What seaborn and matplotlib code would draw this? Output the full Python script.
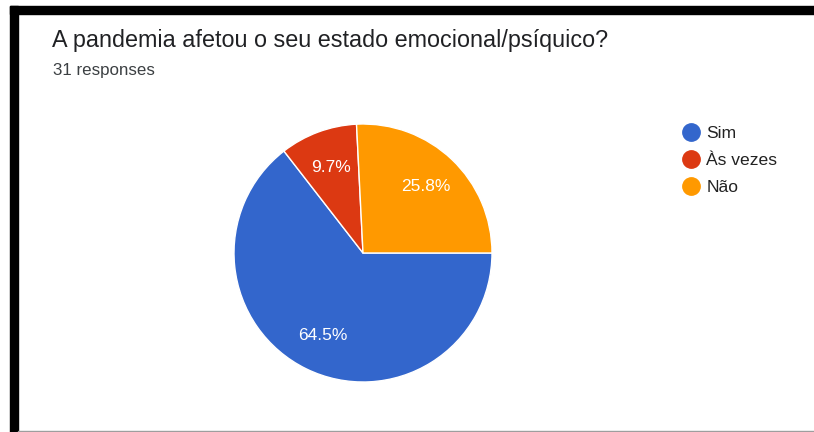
import matplotlib
matplotlib.use("Agg")
import matplotlib.pyplot as plt
from matplotlib.lines import Line2D
from matplotlib.patches import Rectangle
import seaborn as sns

# dados
categorias = ["Sim", "Às vezes", "Não"]
percentuais = [64.5, 9.7, 25.8]
cores = ["#3366cc", "#dc3912", "#ff9900"]
titulo = "A pandemia afetou o seu estado emocional/psíquico?"
subtitulo = "31 responses"

sns.set_theme(style="white")
plt.rcParams['font.family'] = ['Liberation Sans', 'DejaVu Sans']

W, H = 814, 432
fig = plt.figure(figsize=(W / 100, H / 100), dpi=100)
fig.patch.set_facecolor("white")

# moldura preta do recorte
fig.patches.append(Rectangle((10 / W, 0), 8 / W, (H - 6) / H, transform=fig.transFigure,
                             color="black", zorder=5))
fig.patches.append(Rectangle((10 / W, (H - 14) / H), (W - 10) / W, 8 / H,
                             transform=fig.transFigure, color="black", zorder=5))
fig.patches.append(Rectangle((18 / W, 0), (W - 18) / W, 1.5 / H, transform=fig.transFigure,
                             color="#9e9e9e", zorder=5))

# pizza
cx, cy, r = 363, 253, 129
ax = fig.add_axes([(cx - r) / W, (H - cy - r) / H, 2 * r / W, 2 * r / H])
palette = sns.color_palette(cores)
wedges, _, autotexts = ax.pie(percentuais, colors=palette, startangle=0, counterclock=False,
                              autopct="%.1f%%", pctdistance=0.71,
                              wedgeprops=dict(edgecolor="white", linewidth=1))
for t in autotexts:
    t.set_color("white")
    t.set_fontsize(12.5)
ax.set_xlim(-1, 1)
ax.set_ylim(-1, 1)
ax.set_aspect("equal")
ax.axis("off")

fig.text(52 / W, 1 - 40 / H, titulo, fontsize=16.8, color="#202124", va="center", ha="left")
fig.text(53 / W, 1 - 70 / H, subtitulo, fontsize=12.2, color="#3c4043", va="center", ha="left")

handles = [Line2D([0], [0], marker="o", linestyle="", markersize=12.5,
                  markerfacecolor=c, markeredgecolor=c) for c in cores]
fig.legend(handles, categorias, loc="upper left", bbox_to_anchor=(675 / W, 1 - 119 / H),
           frameon=False, fontsize=12.6, labelspacing=0.66, handlelength=1.0,
           handletextpad=0.38, borderaxespad=0, labelcolor="#222222")

fig.savefig("out.png", dpi=100)
